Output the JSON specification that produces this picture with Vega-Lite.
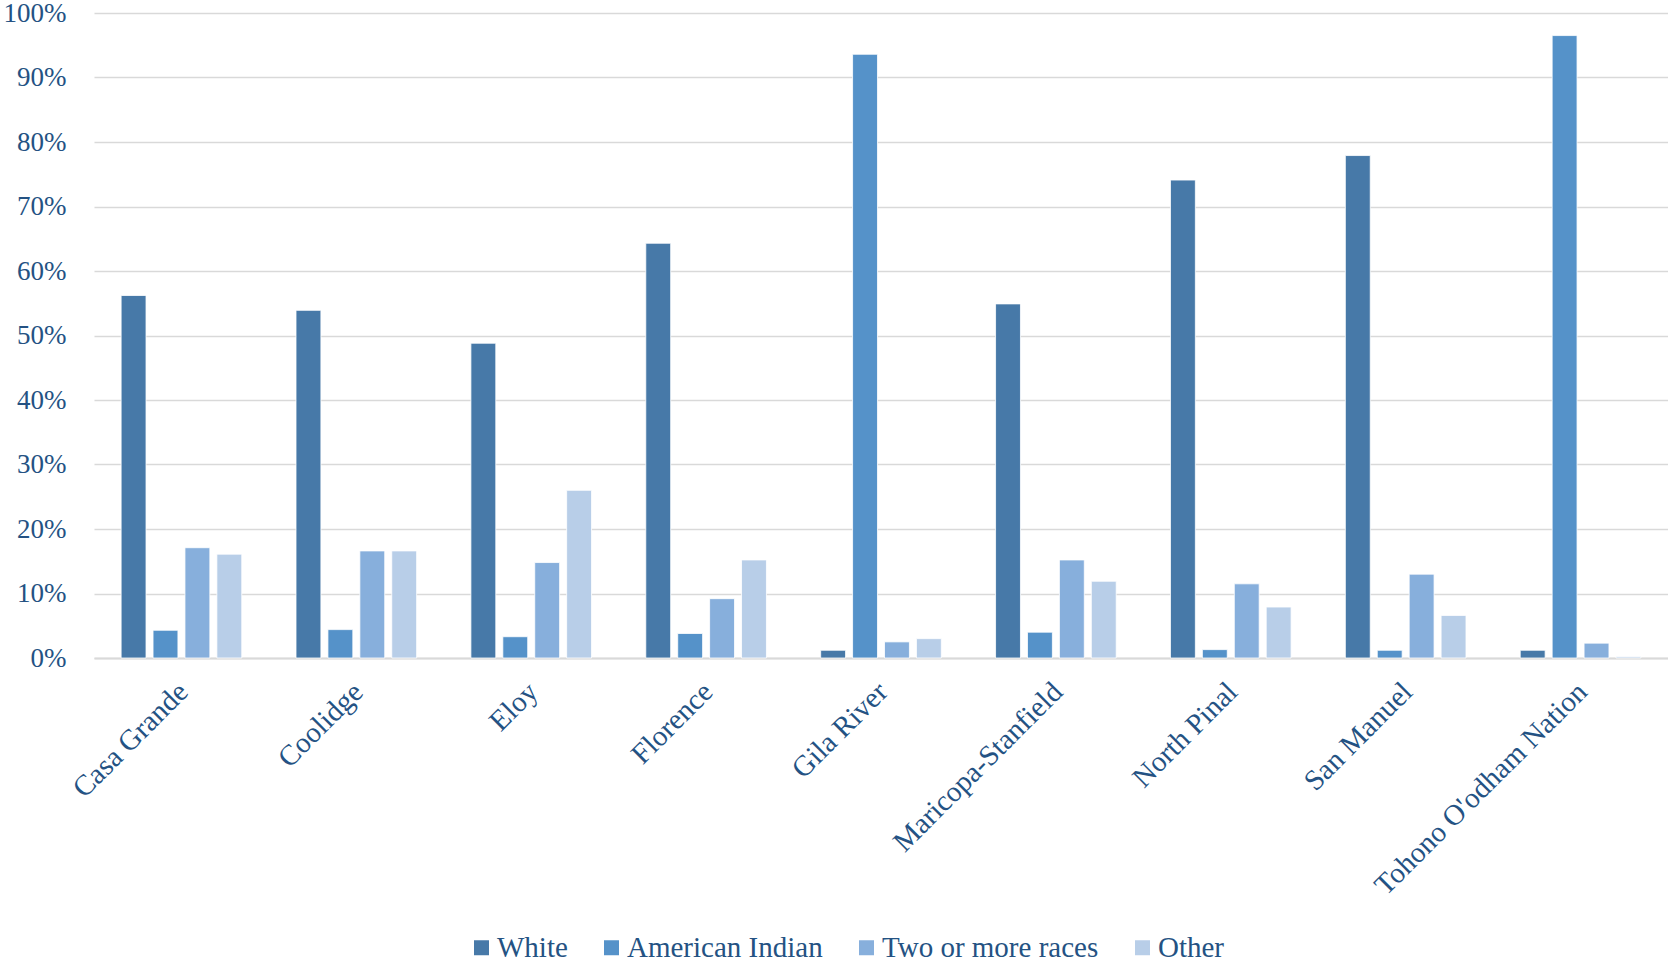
{
  "$schema": "https://vega.github.io/schema/vega-lite/v6.json",
  "autosize": {"type": "none"},
  "padding": {"left": 94, "top": 13, "right": 0, "bottom": 306},
  "width": 1574,
  "height": 645,
  "background": "white",
  "config": {
    "view": {"stroke": null},
    "font": "Liberation Serif"
  },
  "data": {
    "values": [
      {"region": "Casa Grande", "race": "White", "pct": 56.2},
      {"region": "Casa Grande", "race": "American Indian", "pct": 4.3},
      {"region": "Casa Grande", "race": "Two or more races", "pct": 17.1},
      {"region": "Casa Grande", "race": "Other", "pct": 16.1},
      {"region": "Coolidge", "race": "White", "pct": 53.9},
      {"region": "Coolidge", "race": "American Indian", "pct": 4.4},
      {"region": "Coolidge", "race": "Two or more races", "pct": 16.6},
      {"region": "Coolidge", "race": "Other", "pct": 16.6},
      {"region": "Eloy", "race": "White", "pct": 48.8},
      {"region": "Eloy", "race": "American Indian", "pct": 3.3},
      {"region": "Eloy", "race": "Two or more races", "pct": 14.8},
      {"region": "Eloy", "race": "Other", "pct": 26.0},
      {"region": "Florence", "race": "White", "pct": 64.3},
      {"region": "Florence", "race": "American Indian", "pct": 3.8},
      {"region": "Florence", "race": "Two or more races", "pct": 9.2},
      {"region": "Florence", "race": "Other", "pct": 15.2},
      {"region": "Gila River", "race": "White", "pct": 1.2},
      {"region": "Gila River", "race": "American Indian", "pct": 93.6},
      {"region": "Gila River", "race": "Two or more races", "pct": 2.5},
      {"region": "Gila River", "race": "Other", "pct": 3.0},
      {"region": "Maricopa-Stanfield", "race": "White", "pct": 54.9},
      {"region": "Maricopa-Stanfield", "race": "American Indian", "pct": 4.0},
      {"region": "Maricopa-Stanfield", "race": "Two or more races", "pct": 15.2},
      {"region": "Maricopa-Stanfield", "race": "Other", "pct": 11.9},
      {"region": "North Pinal", "race": "White", "pct": 74.1},
      {"region": "North Pinal", "race": "American Indian", "pct": 1.3},
      {"region": "North Pinal", "race": "Two or more races", "pct": 11.5},
      {"region": "North Pinal", "race": "Other", "pct": 7.9},
      {"region": "San Manuel", "race": "White", "pct": 77.9},
      {"region": "San Manuel", "race": "American Indian", "pct": 1.2},
      {"region": "San Manuel", "race": "Two or more races", "pct": 13.0},
      {"region": "San Manuel", "race": "Other", "pct": 6.6},
      {"region": "Tohono O'odham Nation", "race": "White", "pct": 1.2},
      {"region": "Tohono O'odham Nation", "race": "American Indian", "pct": 96.5},
      {"region": "Tohono O'odham Nation", "race": "Two or more races", "pct": 2.3},
      {"region": "Tohono O'odham Nation", "race": "Other", "pct": 0.2}
    ]
  },
  "mark": {"type": "bar", "stroke": "#ffffff", "strokeWidth": 0.8},
  "encoding": {
    "x": {
      "field": "region", "type": "nominal", "sort": null,
      "scale": {"paddingInner": 0.27, "paddingOuter": 0.135},
      "axis": {"title": null, "labelAngle": -45, "ticks": false, "domain": true, "domainColor": "#D9D9D9", "domainWidth": 2, "labelPadding": 19, "labelOffset": -8, "labelLimit": 500, "labelOverlap": false, "labelFont": "Liberation Serif", "labelFontSize": 29, "labelColor": "#245283"}
    },
    "xOffset": {
      "field": "race", "type": "nominal",
      "sort": ["White", "American Indian", "Two or more races", "Other"],
      "scale": {"paddingInner": 0.22, "paddingOuter": 0.11}
    },
    "y": {
      "field": "pct", "type": "quantitative",
      "scale": {"domain": [0, 100], "nice": false},
      "axis": {"title": null, "values": [0,10,20,30,40,50,60,70,80,90,100], "labelExpr": "datum.value + '%'", "ticks": false, "domain": false, "grid": true, "gridColor": "#D9D9D9", "gridWidth": 1.5, "labelPadding": 28, "labelOverlap": false, "labelFont": "Liberation Serif", "labelFontSize": 27, "labelColor": "#245283"}
    },
    "color": {
      "field": "race", "type": "nominal",
      "sort": ["White", "American Indian", "Two or more races", "Other"],
      "scale": {"domain": ["White", "American Indian", "Two or more races", "Other"], "range": ["#4779A8", "#5592C9", "#87AFDC", "#B8CEE8"]},
      "legend": {"title": null, "orient": "none", "direction": "horizontal", "legendX": 373, "legendY": 920, "symbolType": "square", "symbolSize": 225, "symbolStrokeWidth": 0, "labelOffset": 1, "columnPadding": 29, "labelLimit": 500, "labelFont": "Liberation Serif", "labelFontSize": 29, "labelColor": "#245283"}
    }
  }
}
